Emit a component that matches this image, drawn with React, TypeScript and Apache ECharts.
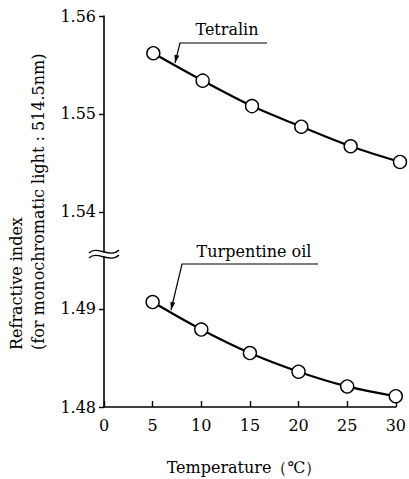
import React, { useEffect, useRef } from "react";
import * as echarts from "echarts";

const temperatures = [5, 10, 15, 20, 25, 30];
const tetralin = [1.5562, 1.5534, 1.5508, 1.5487, 1.5467, 1.5451];
const turpentine = [1.4907, 1.4879, 1.4855, 1.4836, 1.4821, 1.4811];
const upperTicks = [1.54, 1.55, 1.56];
const lowerTicks = [1.48, 1.49];

const FONT = "DejaVu Serif";

function arrowHead(x1: number, y1: number, x2: number, y2: number) {
  const dx = x2 - x1, dy = y2 - y1;
  const len = Math.sqrt(dx * dx + dy * dy);
  const ux = dx / len, uy = dy / len;
  const bx = x2 - ux * 8, by = y2 - uy * 8;
  const px = -uy * 2.5, py = ux * 2.5;
  return {
    type: "polygon",
    shape: { points: [[x2, y2], [bx + px, by + py], [bx - px, by - py]] },
    style: { fill: "#000" },
  };
}

function label(text: string, x: number, y: number, rotated = false, align = "center") {
  return {
    type: "text",
    x,
    y,
    rotation: rotated ? Math.PI / 2 : 0,
    style: {
      text,
      fontFamily: FONT,
      fontSize: 16,
      fill: "#000",
      textAlign: align,
      textVerticalAlign: "middle",
    },
  };
}

export default function App() {
  const ref = useRef<HTMLDivElement>(null);
  useEffect(() => {
    if (!ref.current) return;
    const chart = echarts.init(ref.current, undefined, { renderer: "svg" });
    const axisLabel = { color: "#000", fontFamily: FONT, fontSize: 16 };
    const seriesCommon = {
      type: "line",
      smooth: 0.35,
      symbol: "circle",
      symbolSize: 13,
      lineStyle: { color: "#000", width: 2.2 },
      itemStyle: { color: "#fff", borderColor: "#000", borderWidth: 1.4 },
      z: 5,
    };
    chart.setOption({
      animation: false,
      backgroundColor: "#fff",
      textStyle: { fontFamily: FONT },
      grid: [
        { left: 104, right: 9, top: 16, bottom: 225 },
        { left: 104, right: 9, top: 254, bottom: 72 },
      ],
      xAxis: [
        { gridIndex: 0, type: "value", min: 0, max: 30, interval: 5, show: false },
        {
          gridIndex: 1,
          type: "value",
          min: 0,
          max: 30,
          interval: 5,
          axisLine: { show: true, lineStyle: { color: "#000", width: 1.6 } },
          axisTick: { show: true, inside: true, length: 6, lineStyle: { color: "#000", width: 1.4 } },
          axisLabel: { ...axisLabel, margin: 10 },
          splitLine: { show: false },
        },
      ],
      yAxis: [
        {
          gridIndex: 0,
          type: "value",
          min: 1.5357,
          max: 1.56,
          axisLine: { show: true, lineStyle: { color: "#000", width: 1.6 } },
          axisTick: { show: true, length: 5, customValues: upperTicks, lineStyle: { color: "#000", width: 1.4 } },
          axisLabel: { ...axisLabel, margin: 8, customValues: upperTicks, formatter: (v: number) => v.toFixed(2) },
          splitLine: { show: false },
        },
        {
          gridIndex: 1,
          type: "value",
          min: 1.48,
          max: 1.4956,
          axisLine: { show: true, lineStyle: { color: "#000", width: 1.6 } },
          axisTick: { show: true, length: 5, customValues: lowerTicks, lineStyle: { color: "#000", width: 1.4 } },
          axisLabel: { ...axisLabel, margin: 8, customValues: lowerTicks, formatter: (v: number) => v.toFixed(2) },
          splitLine: { show: false },
        },
      ],
      series: [
        {
          ...seriesCommon,
          name: "Tetralin",
          xAxisIndex: 0,
          yAxisIndex: 0,
          data: temperatures.map((t, i) => [t, tetralin[i]]),
        },
        {
          ...seriesCommon,
          name: "Turpentine oil",
          xAxisIndex: 1,
          yAxisIndex: 1,
          data: temperatures.map((t, i) => [t, turpentine[i]]),
        },
      ],
      graphic: [
        { type: "rect", shape: { x: 88, y: 252, width: 32, height: 5 }, style: { fill: "#fff" }, z: 100 },
        {
          type: "bezierCurve",
          shape: { x1: 89, y1: 253, cpx1: 97, cpy1: 245, cpx2: 110, cpy2: 259, x2: 119, y2: 250 },
          style: { stroke: "#000", lineWidth: 1.4, fill: null },
          z: 101,
        },
        {
          type: "bezierCurve",
          shape: { x1: 89, y1: 258, cpx1: 97, cpy1: 250, cpx2: 110, cpy2: 264, x2: 119, y2: 255 },
          style: { stroke: "#000", lineWidth: 1.4, fill: null },
          z: 101,
        },
        label("Tetralin", 227, 29),
        {
          type: "polyline",
          shape: { points: [[267, 43], [180, 43], [175, 63]] },
          style: { stroke: "#000", lineWidth: 1.2, fill: null },
        },
        arrowHead(180, 43, 175, 63),
        label("Turpentine oil", 254, 251),
        {
          type: "polyline",
          shape: { points: [[318, 264], [182, 264], [171, 310]] },
          style: { stroke: "#000", lineWidth: 1.2, fill: null },
        },
        arrowHead(182, 264, 171, 310),
        label("Refractive index", 16, 350, true, "left"),
        label("(for monochromatic light : 514.5nm)", 38, 350, true, "left"),
        label("Temperature（℃）", 244, 467),
      ],
    });
    return () => chart.dispose();
  }, []);
  return (
    <div
      ref={ref}
      style={{ position: "absolute", left: 0, top: 0, width: 409, height: 479, background: "#fff" }}
    />
  );
}
